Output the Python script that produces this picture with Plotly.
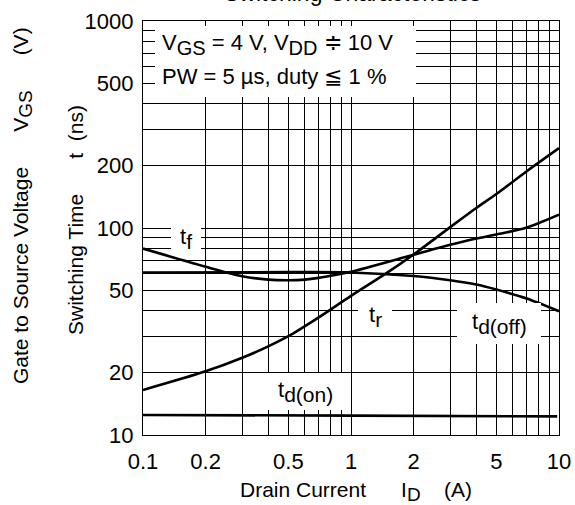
import plotly.graph_objects as go

# ---- data ----
id_tr = [0.1, 0.2, 0.3, 0.4, 0.5, 0.7, 1.0, 1.5, 2.0, 3.0, 4.0, 5.0, 7.0, 10.0]
t_r = [16.5, 20.3, 23.6, 26.8, 30.0, 37.0, 47.0, 61.0, 74.5, 101.0, 125.0, 146.0, 188.0, 243.0]

id_tf = [0.1, 0.2, 0.3, 0.4, 0.5, 0.6, 0.7, 0.8, 1.0, 2.0, 3.0, 4.0, 5.0, 7.0, 10.0]
t_f = [79.5, 65.0, 58.5, 56.3, 55.9, 56.3, 57.4, 58.8, 61.5, 74.3, 83.0, 89.0, 93.0, 100.5, 116.0]

id_toff = [0.1, 0.5, 1.0, 2.0, 3.0, 4.0, 5.0, 7.0, 10.0]
t_doff = [61.0, 61.2, 61.0, 58.6, 55.9, 53.3, 50.4, 45.6, 39.6]

id_ton = [0.1, 1.0, 9.8]
t_don = [12.5, 12.4, 12.3]

x_grid = [m * 10 ** e for e in (-1, 0) for m in range(1, 10)] + [10]
x_labels = {0.1: "0.1", 0.2: "0.2", 0.5: "0.5", 1: "1", 2: "2", 5: "5", 10: "10"}
y_grid = [m * 10 ** e for e in (1, 2) for m in range(1, 10)] + [1000]
y_labels = {10: "10", 20: "20", 50: "50", 100: "100", 200: "200", 500: "500", 1000: "1000"}

FONT = "Liberation Sans, Arial, sans-serif"
SP = "&nbsp;"

fig = go.Figure()
line = dict(color="black", width=2.6, shape="spline", smoothing=0.8)
for xs, ys, nm in [(id_tr, t_r, "tr"), (id_tf, t_f, "tf"), (id_toff, t_doff, "td(off)"), (id_ton, t_don, "td(on)")]:
    fig.add_trace(go.Scatter(x=xs, y=ys, mode="lines", line=line, name=nm, showlegend=False, hoverinfo="skip"))


def tlab(v, d):
    for k, s in d.items():
        if abs(v - k) < 1e-9:
            return s
    return ""


fig.update_xaxes(
    type="log", range=[-1, 1], automargin=False,
    tickvals=x_grid, ticktext=[tlab(v, x_labels) for v in x_grid],
    showgrid=True, gridcolor="black", gridwidth=1,
    showline=True, linecolor="black", linewidth=1.2, mirror=True,
    ticks="", zeroline=False, ticklabelstandoff=6,
    tickfont=dict(family=FONT, size=22, color="black"),
)
fig.update_yaxes(
    type="log", range=[1, 3], automargin=False,
    tickvals=y_grid, ticktext=[tlab(v, y_labels) for v in y_grid],
    showgrid=True, gridcolor="black", gridwidth=1,
    showline=True, linecolor="black", linewidth=1.2, mirror=True,
    ticks="", zeroline=False, ticklabelstandoff=4,
    tickfont=dict(family=FONT, size=22, color="black"),
)

L, R, T, B = 143, 16, 21, 70
W, H = 575, 505
PW, PH = W - L - R, H - T - B


def px(xp):
    return (xp - L) / PW


def py(yp):
    return (H - B - yp) / PH


shapes = []
# white boxes behind the curve labels
for (x0, y0, x1, y1) in [(155, 26, 416, 97), (171, 226, 201, 250), (358, 301, 392, 330),
                         (457, 303, 541, 344), (266, 373, 344, 410)]:
    shapes.append(dict(type="rect", xref="paper", yref="paper", x0=px(x0), x1=px(x1), y0=py(y1), y1=py(y0),
                       fillcolor="white", line=dict(width=0), layer="above"))
fig.update_layout(shapes=shapes)


def sub(s, size):
    return '<sub><span style="font-size:%dpx">%s</span></sub>' % (size, s)


ann = []
def add(text, xp, yp, size=22, xanchor="center", yanchor="middle", angle=0):
    ann.append(dict(text=text, x=px(xp), y=py(yp), xref="paper", yref="paper", showarrow=False,
                    xanchor=xanchor, yanchor=yanchor, textangle=angle,
                    font=dict(family=FONT, size=size, color="black")))

add("V" + sub("GS", 20) + " = 4 V, V" + sub("DD", 20) + " ≑ 10 V", 160, 44, xanchor="left")
add("PW = 5 µs, duty ≦ 1 %", 160, 76, xanchor="left")
add("t" + sub("f", 21), 186, 238)
add("t" + sub("r", 21), 375, 316)
add("t" + sub("d(off)", 21), 499, 324)
add("t" + sub("d(on)", 21), 305, 391)
add("Switching Characteristics", 352, -7, size=23)
add("Switching Time" + SP * 6 + "t" + SP * 2 + "(ns)", 75, 220, size=21, angle=-90)
add("Gate to Source Voltage" + SP * 6 + "V" + sub("GS", 19) + SP * 6 + "(V)", 22, 206, size=21, angle=-90)
add("Drain Current" + SP * 6 + "I" + sub("D", 19) + SP * 4 + "(A)", 356, 491, size=21)

fig.update_layout(
    annotations=ann,
    width=W, height=H,
    margin=dict(l=L, r=R, t=T, b=B, pad=0),
    paper_bgcolor="white", plot_bgcolor="white",
    font=dict(family=FONT, color="black"),
)
fig.write_html("out.html", config={"displayModeBar": False},
               post_script="document.body.style.margin='0';document.body.style.padding='0';")
